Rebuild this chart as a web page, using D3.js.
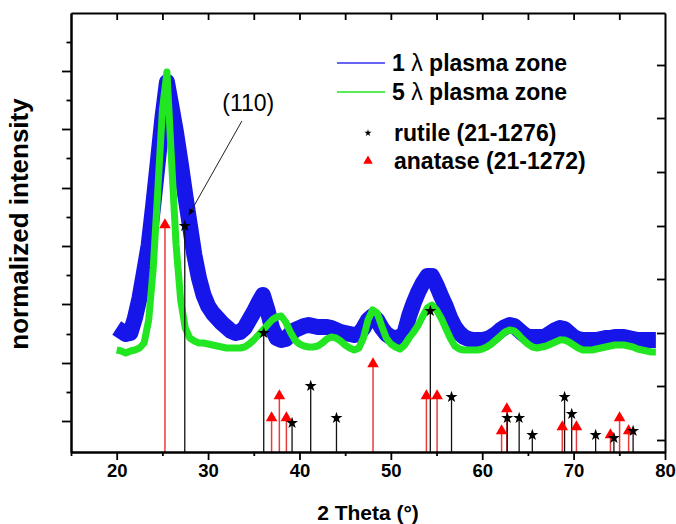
<!DOCTYPE html>
<html>
<head>
<meta charset="utf-8">
<script src="https://cdn.jsdelivr.net/npm/d3@7"></script>
<style>
  body { margin: 0; background: #fff; }
  text { font-family: Arial, "Liberation Sans", sans-serif; }
</style>
</head>
<body>
<svg id="chart" width="676" height="524"></svg>
<script>
// scans are sampled every 0.5 deg from 20 deg
var scanStart = 20, scanStep = 0.5;

// 1 lambda plasma zone (normalized intensity, a.u.)
var zone1 = [124,121,118,119,134,154,180,207,247,290,
    334,370,345,319,289,257,227,197,174,157,
    146,139,134,129,125,121,119,120,124,132,
    140,149,157,142,124,114,112,113,118,122,
    124,126,127,126,125,125,125,124,122,120,
    119,118,117,118,124,132,136,132,124,118,
    115,114,115,119,136,149,160,169,176,176,
    167,156,146,134,125,119,115,113,112,112,
    112,113,115,118,122,125,127,126,122,118,
    115,115,115,115,116,119,122,124,123,119,
    115,113,112,112,112,112,113,114,114,115,
    115,115,114,113,112,112,112,112,112];

// 5 lambda plasma zone
var zone5 = [102,101,99,101,102,104,109,132,184,262,
    342,380,292,207,152,124,114,111,109,109,
    108,107,106,105,104,104,104,104,105,108,
    112,117,122,127,132,135,136,130,120,112,
    108,106,105,105,106,109,113,115,114,111,
    107,104,102,104,114,132,142,139,126,114,
    108,105,103,107,114,120,127,136,144,147,
    142,134,124,114,106,103,102,102,102,102,
    103,105,108,112,116,120,122,121,117,112,
    108,105,104,105,106,108,110,112,112,110,
    107,104,102,102,102,103,104,105,106,107,
    107,107,106,105,103,102,101,100,100];

// reference patterns
var rutilePos = [27.45, 36.09, 39.19, 41.23, 44.05, 54.32, 56.64, 62.74, 64.04, 65.48, 69.01, 69.79, 72.41, 74.41, 76.51];
var rutileInt = [226, 119, 29, 66, 34, 141, 55, 34, 34, 17, 55, 38, 17, 14, 21];
var anatasePos = [25.28, 36.95, 37.80, 38.57, 48.05, 53.89, 55.06, 62.12, 62.69, 68.76, 70.31, 74.03, 75.03, 76.02];
var anataseInt = [227, 34, 56, 34, 88, 56, 56, 21, 43, 25, 25, 17, 34, 21];

// axis ticks
var xMajor = [20, 30, 40, 50, 60, 70, 80];
var xMinor = [15, 25, 35, 45, 55, 65, 75];
var xTop = [20, 25, 30, 35, 40, 45, 50, 55, 60, 65, 70, 75];
var leftMajor = [31, 89, 148, 206, 264, 323, 381];
var leftMinor = [60, 118, 177, 235, 294, 352, 410];
var rightTicks = [12, 66, 119, 173, 226, 280, 334, 387];

// annotation of the rutile (110) reflection
var noteText = "(110)";
var notePos = [34.4, 349];
var arrowFrom = [33.7, 331];
var arrowTo = [27.9, 237];

var svg = d3.select("#chart");
var margin = {left: 71, top: 13, right: 11, bottom: 72};
var W = 676, H = 524;

var x = d3.scaleLinear().domain([15, 80]).range([margin.left, W - margin.right]);
var y = d3.scaleLinear().domain([0, 439]).range([H - margin.bottom, margin.top]);

function toPoints(arr) {
    return arr.map(function (v, i) { return [scanStart + i * scanStep, v]; });
}

var line = d3.line()
    .x(function (d) { return x(d[0]); })
    .y(function (d) { return y(d[1]); });

// curves (thick strokes stand in for the noise band of the scans)
svg.append("path")
    .datum(toPoints(zone1))
    .attr("d", line)
    .attr("fill", "none")
    .attr("stroke", "#1616ea")
    .attr("stroke-width", 16)
    .attr("stroke-linejoin", "round")
    .attr("stroke-linecap", "butt");

svg.append("path")
    .datum(toPoints(zone5))
    .attr("d", line)
    .attr("fill", "none")
    .attr("stroke", "#22e622")
    .attr("stroke-width", 7)
    .attr("stroke-linejoin", "round")
    .attr("stroke-linecap", "butt");

// stick patterns
var rutile = rutilePos.map(function (p, i) { return {pos: p, val: rutileInt[i]}; });
var anatase = anatasePos.map(function (p, i) { return {pos: p, val: anataseInt[i]}; });

svg.append("g").selectAll("line")
    .data(anatase).enter().append("line")
    .attr("x1", function (d) { return x(d.pos); })
    .attr("x2", function (d) { return x(d.pos); })
    .attr("y1", y(0))
    .attr("y2", function (d) { return y(d.val); })
    .attr("stroke", "#e83c3c")
    .attr("stroke-width", 1.5);

svg.append("g").selectAll("line")
    .data(rutile).enter().append("line")
    .attr("x1", function (d) { return x(d.pos); })
    .attr("x2", function (d) { return x(d.pos); })
    .attr("y1", y(0))
    .attr("y2", function (d) { return y(d.val); })
    .attr("stroke", "#111")
    .attr("stroke-width", 1.3);

svg.append("g").selectAll("path")
    .data(anatase).enter().append("path")
    .attr("d", d3.symbol().type(d3.symbolTriangle).size(58))
    .attr("transform", function (d) { return "translate(" + x(d.pos) + "," + y(d.val) + ")"; })
    .attr("fill", "#ff0000");

svg.append("g").selectAll("path")
    .data(rutile).enter().append("path")
    .attr("d", d3.symbol().type(d3.symbolStar).size(45))
    .attr("transform", function (d) { return "translate(" + x(d.pos) + "," + y(d.val) + ")"; })
    .attr("fill", "#000");

// axes
function styleAxis(g) {
    g.selectAll(".domain").attr("stroke", "#000").attr("stroke-width", 2);
    g.selectAll(".tick line").attr("stroke", "#000").attr("stroke-width", 1.8);
}

svg.append("g")
    .attr("transform", "translate(0," + y(0) + ")")
    .call(d3.axisBottom(x).tickValues(xMinor).tickSize(4).tickSizeOuter(0).tickFormat(""))
    .call(styleAxis);

var bottom = svg.append("g")
    .attr("transform", "translate(0," + y(0) + ")")
    .call(d3.axisBottom(x).tickValues(xMajor).tickSize(8).tickSizeOuter(0).tickPadding(4).tickFormat(d3.format("d")))
    .call(styleAxis);
bottom.selectAll("text")
    .attr("fill", "#000")
    .style("font-size", "18.5px")
    .style("font-weight", "bold");

svg.append("g")
    .attr("transform", "translate(0," + y(439) + ")")
    .call(d3.axisTop(x).tickValues(xTop).tickSize(-7).tickSizeOuter(0).tickFormat(""))
    .call(styleAxis);

svg.append("g")
    .attr("transform", "translate(" + x(15) + ",0)")
    .call(d3.axisLeft(y).tickValues(leftMajor).tickSize(9).tickSizeOuter(0).tickFormat(""))
    .call(styleAxis);

svg.append("g")
    .attr("transform", "translate(" + x(15) + ",0)")
    .call(d3.axisLeft(y).tickValues(leftMinor).tickSize(4.5).tickSizeOuter(0).tickFormat(""))
    .call(styleAxis);

svg.append("g")
    .attr("transform", "translate(" + x(80) + ",0)")
    .call(d3.axisRight(y).tickValues(rightTicks).tickSize(-8).tickSizeOuter(0).tickFormat(""))
    .call(styleAxis);

// axis titles
svg.append("text")
    .attr("x", (x(15) + x(80)) / 2)
    .attr("y", 520)
    .attr("text-anchor", "middle")
    .style("font-size", "21px")
    .style("font-weight", "bold")
    .text("2 Theta (°)");

svg.append("text")
    .attr("transform", "translate(28,224) rotate(-90)")
    .attr("text-anchor", "middle")
    .style("font-size", "26px")
    .style("font-weight", "bold")
    .text("normalized intensity");

// annotation
svg.append("defs").append("marker")
    .attr("id", "arrow")
    .attr("viewBox", "0 0 10 10")
    .attr("refX", 9).attr("refY", 5)
    .attr("markerWidth", 7).attr("markerHeight", 7)
    .attr("orient", "auto")
    .append("path")
    .attr("d", "M0,1 L10,5 L0,9 z")
    .attr("fill", "#000");

svg.append("line")
    .attr("x1", x(arrowFrom[0])).attr("y1", y(arrowFrom[1]))
    .attr("x2", x(arrowTo[0])).attr("y2", y(arrowTo[1]))
    .attr("stroke", "#222")
    .attr("stroke-width", 1)
    .attr("marker-end", "url(#arrow)");

svg.append("text")
    .attr("x", x(notePos[0]))
    .attr("y", y(notePos[1]) + 8)
    .attr("text-anchor", "middle")
    .style("font-size", "23px")
    .text(noteText);

// legend
var legend = svg.append("g").attr("transform", "translate(337,63)");
var legendRows = [
    {num: "1", color: "#3535f0", dy: 0},
    {num: "5", color: "#22e622", dy: 29}
];
legendRows.forEach(function (r) {
    legend.append("rect")
        .attr("x", 0).attr("width", 48)
        .attr("y", r.dy - 0.75).attr("height", 1.5)
        .attr("fill", r.color);
    var t = legend.append("text")
        .attr("x", 55).attr("y", r.dy + 8)
        .style("font-size", "23px")
        .style("font-weight", "bold");
    t.append("tspan").text(r.num + " ");
    t.append("tspan").style("font-weight", "normal").text("λ");
    t.append("tspan").text(" plasma zone");
});

legend.append("path")
    .attr("d", d3.symbol().type(d3.symbolStar).size(16))
    .attr("transform", "translate(31,70)")
    .attr("fill", "#000");
legend.append("text")
    .attr("x", 57).attr("y", 78)
    .style("font-size", "23px").style("font-weight", "bold")
    .text("rutile (21-1276)");

legend.append("path")
    .attr("d", d3.symbol().type(d3.symbolTriangle).size(40))
    .attr("transform", "translate(31,98)")
    .attr("fill", "#ff0000");
legend.append("text")
    .attr("x", 57).attr("y", 106)
    .style("font-size", "23px").style("font-weight", "bold")
    .text("anatase (21-1272)");
</script>
</body>
</html>
